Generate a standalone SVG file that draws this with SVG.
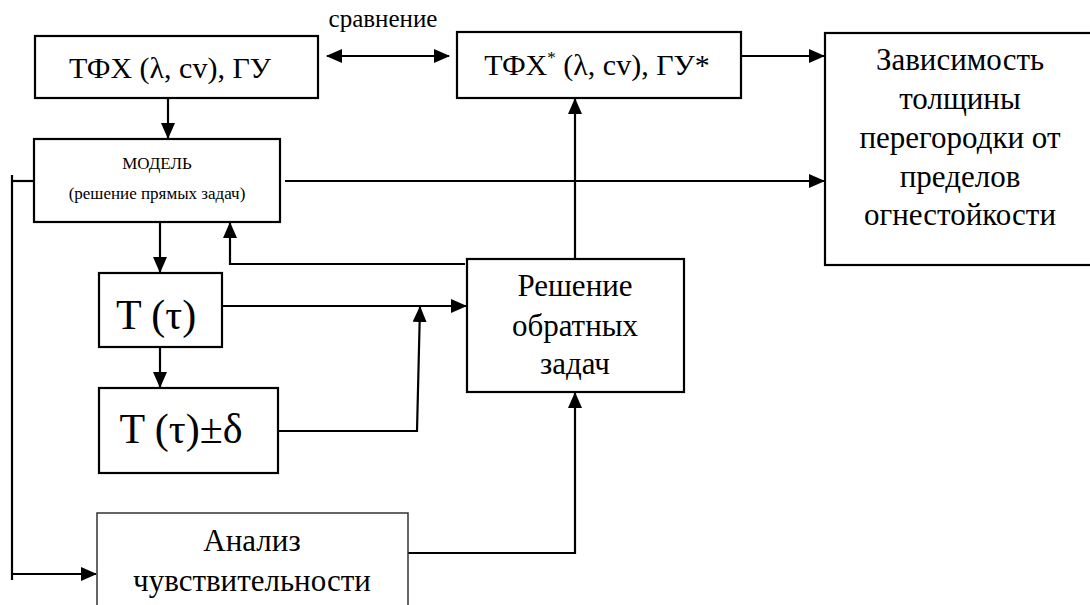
<svg xmlns="http://www.w3.org/2000/svg" width="1090" height="605" viewBox="0 0 1090 605">
<style>
.box{fill:#fff;stroke:#000;stroke-width:2.2}
.thin{fill:#fff;stroke:#333;stroke-width:1.5}
.ln{fill:none;stroke:#000;stroke-width:2.2}
.ar{fill:none;stroke:#000;stroke-width:2.2;marker-end:url(#ah)}
</style>
<defs>
<marker id="ah" viewBox="0 0 16 14" markerWidth="16" markerHeight="14" refX="15" refY="7" orient="auto" markerUnits="userSpaceOnUse">
<path d="M0,0 L16,7 L0,14 Z" fill="#000"/>
</marker>
<marker id="ahs" viewBox="0 0 16 14" markerWidth="16" markerHeight="14" refX="1" refY="7" orient="auto" markerUnits="userSpaceOnUse">
<path d="M16,0 L0,7 L16,14 Z" fill="#000"/>
</marker>
</defs>
<rect width="1090" height="605" fill="#fff"/>
<g id="connectors">
<line class="ar" x1="327" y1="56" x2="449" y2="56" marker-start="url(#ahs)"/>
<line class="ar" x1="741" y1="56" x2="824" y2="56"/>
<line class="ar" x1="168" y1="98" x2="168" y2="138"/>
<line class="ar" x1="285" y1="181" x2="824" y2="181"/>
<line class="ln" x1="12" y1="181" x2="34" y2="181"/>
<line class="ln" x1="12" y1="175" x2="12" y2="580"/>
<line class="ar" x1="12" y1="574" x2="96" y2="574"/>
<line class="ar" x1="160" y1="222" x2="160" y2="272"/>
<polyline class="ar" points="465,264 230,264 230,223"/>
<line class="ar" x1="222" y1="306" x2="466" y2="306"/>
<line class="ar" x1="160" y1="347" x2="160" y2="387"/>
<polyline class="ar" points="273,431 417,431 420,307"/>
<line class="ar" x1="575" y1="259" x2="575" y2="99"/>
<polyline class="ar" points="408,553 575,553 575,393"/>
</g>
<g font-family="Liberation Serif, DejaVu Serif, serif" text-anchor="middle" fill="#000">
<text x="383" y="27" font-size="25">сравнение</text>
<g id="tfh">
<rect class="box" x="35" y="36" width="283" height="62"/>
<text x="170" y="78" font-size="30">ТФХ (λ, cv), ГУ</text>
</g>
<g id="tfh-star">
<rect class="box" x="457" y="32" width="284" height="66"/>
<text x="597" y="75" font-size="30">ТФХ<tspan font-size="17" dy="-12">*</tspan><tspan dy="12"> (λ, cv), ГУ*</tspan></text>
</g>
<g id="zavisimost" font-size="31">
<rect class="box" x="825" y="33" width="270" height="232"/>
<text x="960" y="70">Зависимость</text>
<text x="960" y="109">толщины</text>
<text x="960" y="148">перегородки от</text>
<text x="960" y="187">пределов</text>
<text x="960" y="225">огнестойкости</text>
</g>
<g id="model" font-size="17">
<rect class="box" x="34" y="139" width="246" height="83"/>
<text x="157" y="169">МОДЕЛЬ</text>
<text x="157" y="199">(решение прямых задач)</text>
</g>
<g id="t-tau" font-size="42">
<rect class="box" x="99" y="273" width="123" height="74"/>
<text x="156" y="329">T (τ)</text>
</g>
<g id="t-tau-delta" font-size="42">
<rect class="box" x="99" y="388" width="179" height="85"/>
<text x="181" y="443">T (τ)±δ</text>
</g>
<g id="reshenie" font-size="31">
<rect class="box" x="467" y="259" width="217" height="133"/>
<text x="575" y="296">Решение</text>
<text x="575" y="336">обратных</text>
<text x="575" y="374">задач</text>
</g>
<g id="analiz" font-size="31">
<rect class="thin" x="97" y="513" width="311" height="100"/>
<text x="252" y="551">Анализ</text>
<text x="252" y="591">чувствительности</text>
</g>
</g>
</svg>
